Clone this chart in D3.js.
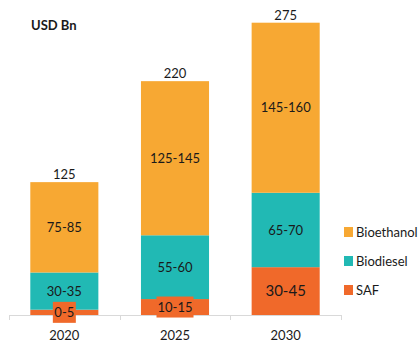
<!DOCTYPE html>
<html>
<head>
<meta charset="utf-8">
<script src="https://cdn.jsdelivr.net/npm/d3@7"></script>
<style>
  body { margin: 0; background: #fff; }
  text { font-family: Lato, "Liberation Sans", sans-serif; fill: #1a1a1a; }
</style>
</head>
<body>
<div id="chart"></div>
<script>
// data
var years = ["2020", "2025", "2030"];
var seriesNames = ["SAF", "Biodiesel", "Bioethanol"];
var safValues = [5, 15, 45];
var biodieselValues = [35, 60, 70];
var bioethanolValues = [85, 145, 160];
var safLabels = ["0-5", "10-15", "30-45"];
var biodieselLabels = ["30-35", "55-60", "65-70"];
var bioethanolLabels = ["75-85", "125-145", "145-160"];
var totals = [125, 220, 275];
var colors = { SAF: "#F0692A", Biodiesel: "#21B9B4", Bioethanol: "#F7A833" };

var width = 419, height = 344;
var svg = d3.select("#chart").append("svg").attr("width", width).attr("height", height);

var x = d3.scaleBand().domain(years).range([9, 341]).paddingInner(0.385).paddingOuter(0.1925);
var xEdge = d3.scaleBand().domain(years).range([9, 341]).padding(0);
var y = d3.scaleLinear().domain([0, 275]).range([315, 22.7]);

// build rows for stack
var rows = years.map(function (yr, i) {
  return { year: yr, SAF: safValues[i], Biodiesel: biodieselValues[i], Bioethanol: bioethanolValues[i],
           labels: { SAF: safLabels[i], Biodiesel: biodieselLabels[i], Bioethanol: bioethanolLabels[i] } };
});
var stacked = d3.stack().keys(seriesNames)(rows);

// axis line + ticks
var axisG = svg.append("g");
axisG.append("line").attr("x1", 9).attr("x2", 341).attr("y1", y(0) + 0.5).attr("y2", y(0) + 0.5)
  .attr("stroke", "#d9d9d9").attr("stroke-width", 1);
var edges = years.map(function (d) { return xEdge(d); }).concat([xEdge(years[2]) + xEdge.bandwidth()]);
axisG.selectAll("line.tick").data(edges).enter().append("line")
  .attr("class", "tick")
  .attr("x1", function (d) { return Math.round(d) + 0.5; })
  .attr("x2", function (d) { return Math.round(d) + 0.5; })
  .attr("y1", y(0)).attr("y2", y(0) + 5)
  .attr("stroke", "#d9d9d9");

// bars
var layers = svg.append("g").selectAll("g").data(stacked).enter().append("g")
  .attr("fill", function (d) { return colors[d.key]; });
layers.selectAll("rect").data(function (d) { return d; }).enter().append("rect")
  .attr("x", function (d) { return x(d.data.year); })
  .attr("width", x.bandwidth())
  .attr("y", function (d) { return y(d[1]); })
  .attr("height", function (d) { return y(d[0]) - y(d[1]); });

// segment labels
stacked.forEach(function (layer) {
  layer.forEach(function (d) {
    var cx = x(d.data.year) + x.bandwidth() / 2;
    var cy = (y(d[0]) + y(d[1])) / 2;
    var txt = d.data.labels[layer.key];
    var segH = y(d[0]) - y(d[1]);
    var fs = (layer.key === "SAF" && segH > 30) ? 15 : 13;
    if (segH < 18) {
      var w = txt.length * 7 + 2;
      svg.append("rect").attr("x", cx - w / 2).attr("y", cy - 10.5).attr("width", w).attr("height", 21)
        .attr("fill", colors[layer.key]);
    }
    svg.append("text").attr("x", cx).attr("y", cy).attr("dy", "0.35em")
      .attr("text-anchor", "middle").style("font-size", fs + "px").text(txt);
  });
});

// totals
svg.append("g").selectAll("text").data(years).enter().append("text")
  .attr("x", function (d) { return x(d) + x.bandwidth() / 2; })
  .attr("y", function (d, i) { return y(totals[i]) - 3; })
  .attr("text-anchor", "middle").style("font-size", "13px")
  .text(function (d, i) { return totals[i]; });

// year labels
svg.append("g").selectAll("text").data(years).enter().append("text")
  .attr("x", function (d) { return x(d) + x.bandwidth() / 2; })
  .attr("y", 340)
  .attr("text-anchor", "middle").style("font-size", "13px")
  .text(function (d) { return d; });

// title
svg.append("text").attr("x", 31).attr("y", 30).style("font-size", "13px").style("font-weight", "bold")
  .text("USD Bn");

// legend
var legendOrder = ["Bioethanol", "Biodiesel", "SAF"];
var leg = svg.append("g").selectAll("g").data(legendOrder).enter().append("g")
  .attr("transform", function (d, i) { return "translate(344," + (232 + i * 29) + ")"; });
leg.append("rect").attr("x", 0).attr("y", -5).attr("width", 9).attr("height", 10)
  .attr("fill", function (d) { return colors[d]; });
leg.append("text").attr("x", 12).attr("y", 0).attr("dy", "0.35em").style("font-size", "13px")
  .text(function (d) { return d; });
</script>
</body>
</html>
